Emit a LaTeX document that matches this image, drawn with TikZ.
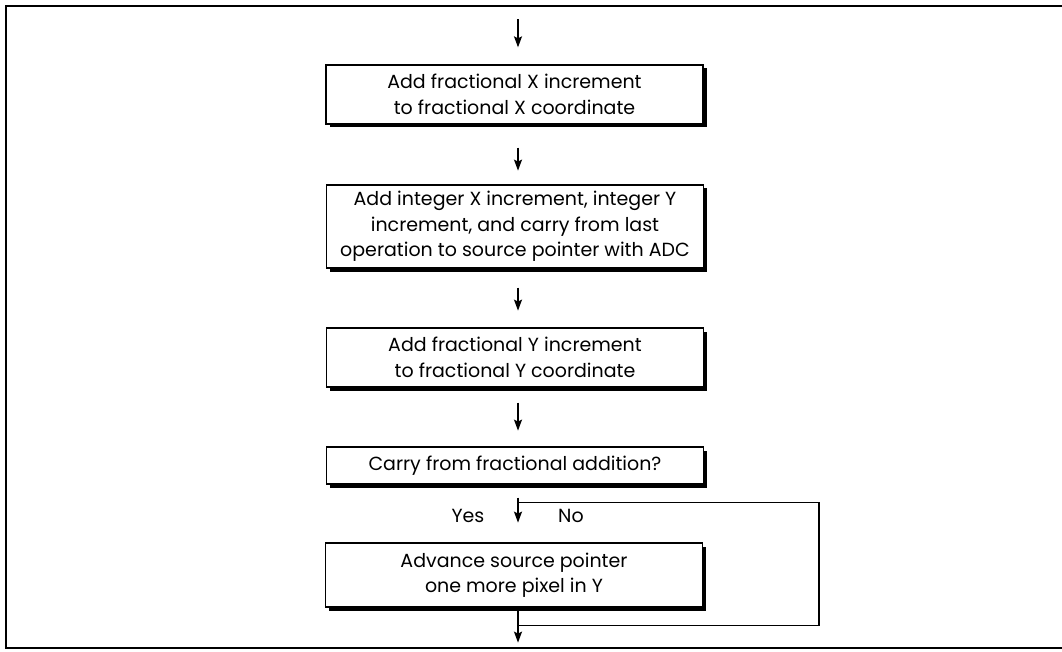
\documentclass[tikz,border=0pt]{standalone}
\usepackage{fontspec}
\setmainfont{Poppins}
\usetikzlibrary{arrows.meta,shadows}
\begin{document}
\begin{tikzpicture}[x=1pt,y=-1pt,
  txt/.style={font=\fontsize{19}{25.5}\selectfont},
  box/.style={txt,draw,line width=1.3pt,fill=white,minimum width=377pt,inner sep=0pt,align=center,
    drop shadow={shadow xshift=3.5pt,shadow yshift=-3.5pt,fill=black,opacity=1}},
  arr/.style={line width=1.5pt,-{Stealth[length=11pt,width=8pt,inset=2pt]}},
  plain/.style={line width=1.2pt}]
\useasboundingbox (0,0) rectangle (1062,652);
\draw[line width=1.3pt] (1062,6) -- (6,6) -- (6,648) -- (1062,648);
\coordinate (ax) at (518,0);
\node[box,minimum height=59pt] (b1) at (514.5,94.5) {Add fractional X increment\\to fractional X coordinate};
\node[box,minimum height=83pt] (b2) at (515,226.5) {Add integer X increment, integer Y\\increment, and carry from last\\operation to source pointer with ADC};
\node[box,minimum height=59pt] (b3) at (515,357.5) {Add fractional Y increment\\to fractional Y coordinate};
\node[box,minimum height=37pt] (b4) at (515,465.5) {Carry from fractional addition?};
\node[box,minimum height=64pt] (b5) at (514,575) {Advance source pointer\\one more pixel in Y};
\draw[arr] (b1.north -| ax) ++(0,-45) -- ++(0,28);
\draw[arr] (b1.south -| ax) ++(0,23) -- ++(0,23);
\draw[arr] (b2.south -| ax) ++(0,19) -- ++(0,23);
\draw[arr] (b3.south -| ax) ++(0,15) -- ++(0,28);
\draw[arr] (b4.south -| ax) ++(0,13) -- ++(0,25);
\draw[plain] (b4.south -| ax) ++(0,18) -- ++(301,0) -- ++(0,123) -- ++(-301,0);
\draw[arr] (b5.south -| ax) ++(0,3) -- ++(0,32);
\node[txt] (yes) at (468,516) {Yes};
\node[txt] (no) at (571,516) {No};
\end{tikzpicture}
\end{document}
